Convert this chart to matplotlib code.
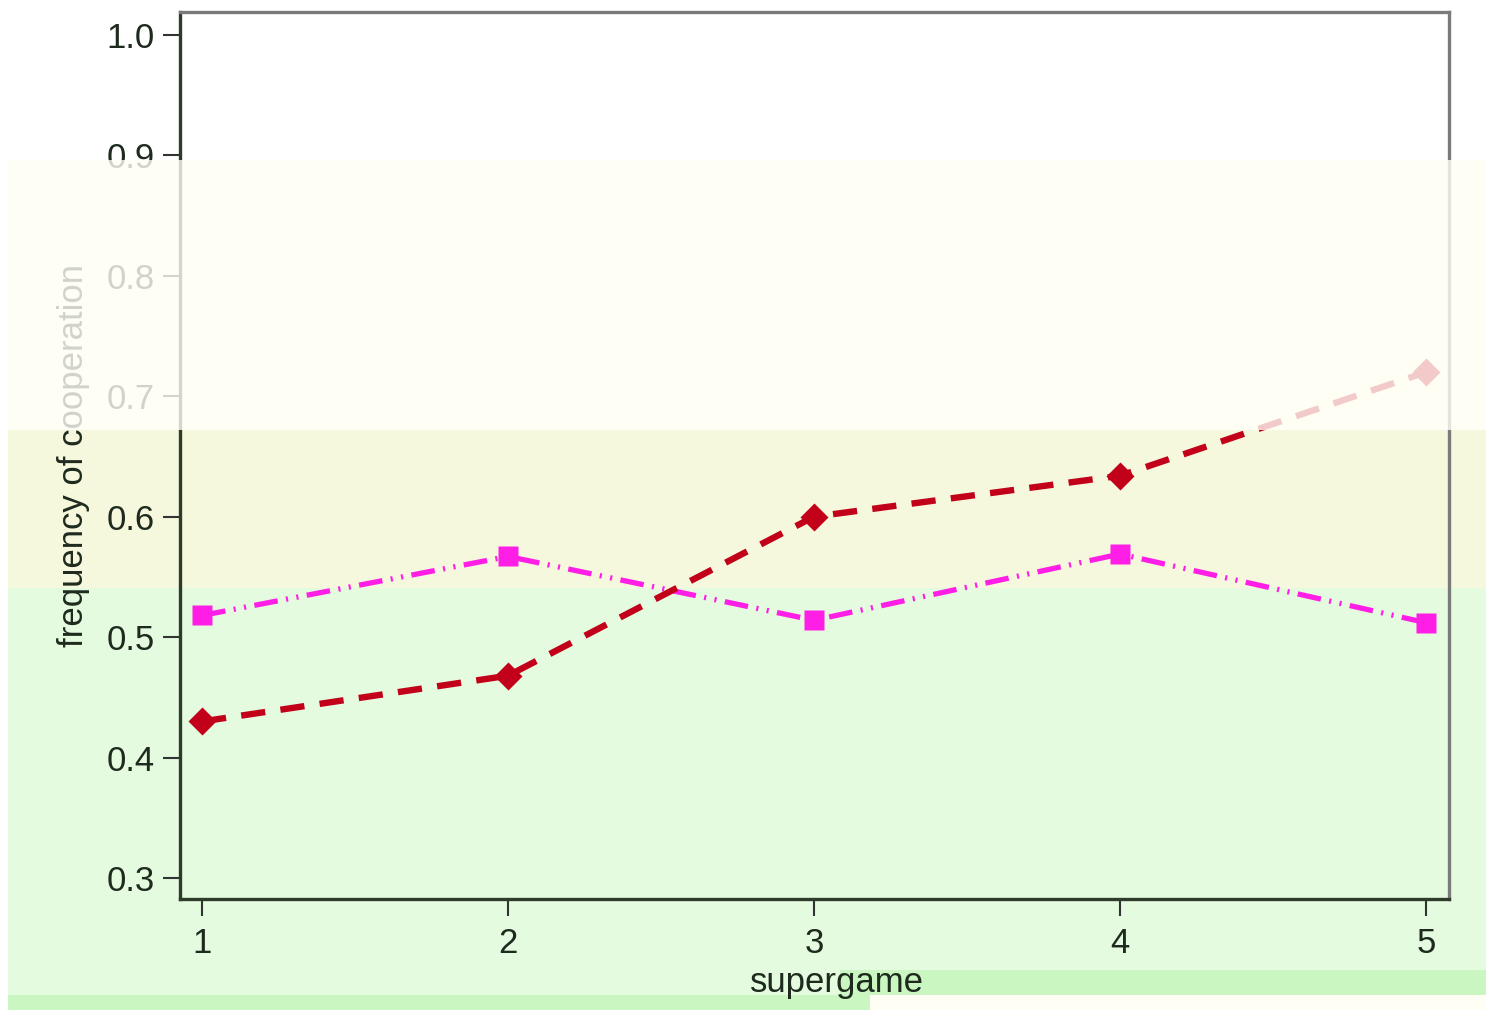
import numpy as np
import matplotlib
matplotlib.use("Agg")
import matplotlib.pyplot as plt
from matplotlib.patches import Rectangle

# data
supergame = [1, 2, 3, 4, 5]
coop_red = [0.430, 0.468, 0.600, 0.634, 0.720]
coop_magenta = [0.518, 0.567, 0.514, 0.569, 0.512]
yticks = [0.3, 0.4, 0.5, 0.6, 0.7, 0.8, 0.9, 1.0]

W, H = 1486, 1010
plt.rcParams['font.family'] = ['Liberation Sans', 'DejaVu Sans']

fig = plt.figure(figsize=(W / 100, H / 100), dpi=100)
fig.patch.set_facecolor('white')


def band(x0, y0, x1, y1, color, alpha=1.0, z=-10):
    """rectangle given in image pixels (top-left origin)"""
    r = Rectangle((x0 / W, 1 - y1 / H), (x1 - x0) / W, (y1 - y0) / H,
                  transform=fig.transFigure, facecolor=color, edgecolor='none',
                  alpha=alpha, zorder=z)
    fig.add_artist(r)


# tinted background bands
band(8, 160, W, 430, '#fffef4')
band(8, 430, W, 588, '#f5f8dc')
band(8, 588, W, H, '#e4fbdf')
band(840, 970, W, 995, '#c9f6c1')
band(8, 995, 870, H, '#c9f6c1')
band(870, 995, W, H, '#fffef4')

ax = fig.add_axes([180 / W, 1 - 899 / H, (1449 - 180) / W, (899 - 12) / H])
ax.set_facecolor('none')

ax.plot(supergame, coop_red, color='#c2001a', lw=4.6,
        linestyle=(0, (3.8, 2.4)), marker='D', ms=14, mec='none', zorder=3)
ax.plot(supergame, coop_magenta, color='#ff1ee6', lw=3.8,
        linestyle=(0, (4.5, 1.6, 0.4, 1.6, 0.4, 1.6)), marker='s', ms=14,
        mec='none', zorder=2)

ax.set_xlim(0.928, 5.075)
ax.set_ylim(0.2826, 1.019)
ax.set_xticks(supergame)
ax.set_yticks(yticks)
ax.set_yticklabels([f'{v:.1f}' for v in yticks])

for s in ['left', 'bottom']:
    ax.spines[s].set_color('#2e3a2a')
    ax.spines[s].set_linewidth(2.4)
for s in ['top', 'right']:
    ax.spines[s].set_color('#7a7a7a')
    ax.spines[s].set_linewidth(2.4)

ax.tick_params(axis='both', labelsize=25, length=12, width=1.5,
               color='#333333', labelcolor='#1e2a1e')
ax.tick_params(axis='x', pad=8)
ax.tick_params(axis='y', pad=6)

ax.set_ylabel('frequency of cooperation', fontsize=25, color='#1e2a1e',
              labelpad=12)
ax.set_xlabel('supergame', fontsize=25, color='#1e2a1e')
ax.xaxis.set_label_coords(0.518, -0.075)

# washed-out strip across the upper part of the picture
band(8, 160, W, 430, '#fffef6', alpha=0.8, z=10)

fig.savefig('out.png', dpi=100)
